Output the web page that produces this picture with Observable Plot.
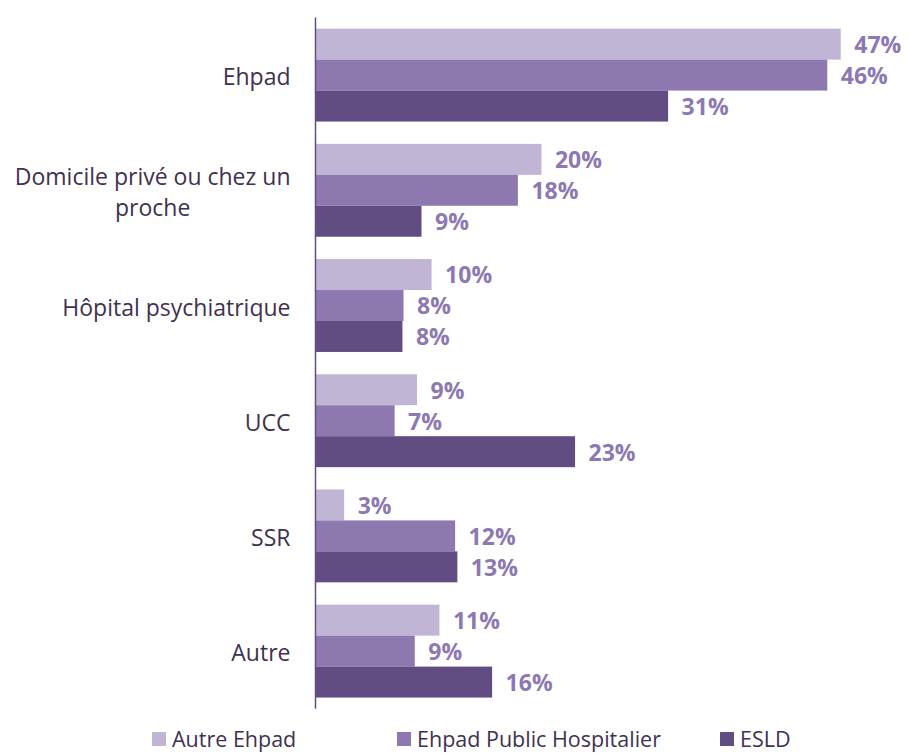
<!DOCTYPE html>
<html>
<head>
<meta charset="utf-8">
<script src="https://cdn.jsdelivr.net/npm/d3@7"></script>
<script src="https://cdn.jsdelivr.net/npm/@observablehq/plot@0.6"></script>
<style>
  body { margin: 0; background: #fff; font-family: "Open Sans", sans-serif; overflow: hidden; }
  #wrap { width: 908px; }
  #legend { position: relative; height: 35px; width: 908px; }
  .item { position: absolute; top: 6px; height: 26px; line-height: 26px; display: flex; align-items: center; font-size: 21.5px; color: #3f3151; }
  .sw { width: 14px; height: 14px; margin-right: 6px; }
</style>
</head>
<body>
<div id="wrap"><div id="chart"></div><div id="legend"></div></div>
<script>
const categories = ["Ehpad", "Domicile privé ou chez un proche", "Hôpital psychiatrique", "UCC", "SSR", "Autre"];
const series = ["Autre Ehpad", "Ehpad Public Hospitalier", "ESLD"];
const colors = ["#c1b5d6", "#8d79b0", "#614d82"];
// bar lengths (%)
const autreEhpad = [46.9, 20.2, 10.4, 9.1, 2.6, 11.1];
const ehpadPublic = [45.7, 18.1, 7.9, 7.1, 12.5, 8.9];
const esld = [31.5, 9.5, 7.8, 23.2, 12.7, 15.8];
// labels as printed
const autreEhpadLabels = ["47%", "20%", "10%", "9%", "3%", "11%"];
const ehpadPublicLabels = ["46%", "18%", "8%", "7%", "12%", "9%"];
const esldLabels = ["31%", "9%", "8%", "23%", "13%", "16%"];
const legendLeft = [152, 397, 720];

const valuesBySeries = [autreEhpad, ehpadPublic, esld];
const labelsBySeries = [autreEhpadLabels, ehpadPublicLabels, esldLabels];
const data = [];
categories.forEach((c, i) => series.forEach((s, j) => data.push({
  category: c, series: s, value: valuesBySeries[j][i], label: labelsBySeries[j][i]
})));

const wrapLabel = d => d === "Domicile privé ou chez un proche" ? "Domicile privé ou chez un\nproche" : d;

const chart = Plot.plot({
  width: 908,
  height: 720,
  marginLeft: 315,
  marginRight: 0,
  marginTop: 17.5,
  marginBottom: 11.3,
  style: { fontFamily: "Open Sans, sans-serif", background: "#fff" },
  x: { domain: [0, 52.9], axis: null },
  y: { domain: series, paddingInner: 0, paddingOuter: 0.36, round: false, axis: null },
  fy: { domain: categories, padding: 0, round: false, label: null },
  color: { domain: series, range: colors },
  marks: [
    Plot.barX(data, { x: "value", y: "series", fy: "category", fill: "series", inset: 0 }),
    Plot.text(data, { x: "value", y: "series", fy: "category", text: "label", textAnchor: "start", dx: 13, dy: 1,
      fill: "#8c79b3", fontWeight: "bold", fontSize: 23 }),
    Plot.ruleX([0], { stroke: "#614d82", strokeWidth: 1.5 }),
    Plot.axisFy({ anchor: "left", tickSize: 0, tickPadding: 25, fontSize: 23, fill: "#3f3151",
      tickFormat: wrapLabel, label: null, lineHeight: 1.32 })
  ]
});
document.getElementById("chart").appendChild(chart);

// center multi-line tick labels within their own block (right edge kept)
chart.querySelectorAll("[aria-label='fy-axis tick label'] text").forEach(t => {
  const spans = t.querySelectorAll("tspan");
  if (spans.length > 1) {
    const bb = t.getBBox();
    const right = bb.x + bb.width;
    t.setAttribute("text-anchor", "middle");
    spans.forEach(s => s.setAttribute("x", right - bb.width / 2));
  }
});

const legend = document.getElementById("legend");
series.forEach((s, i) => {
  const it = document.createElement("div");
  it.className = "item";
  it.style.left = legendLeft[i] + "px";
  it.innerHTML = `<span class="sw" style="background:${colors[i]}"></span><span>${s}</span>`;
  legend.appendChild(it);
});
</script>
</body>
</html>
